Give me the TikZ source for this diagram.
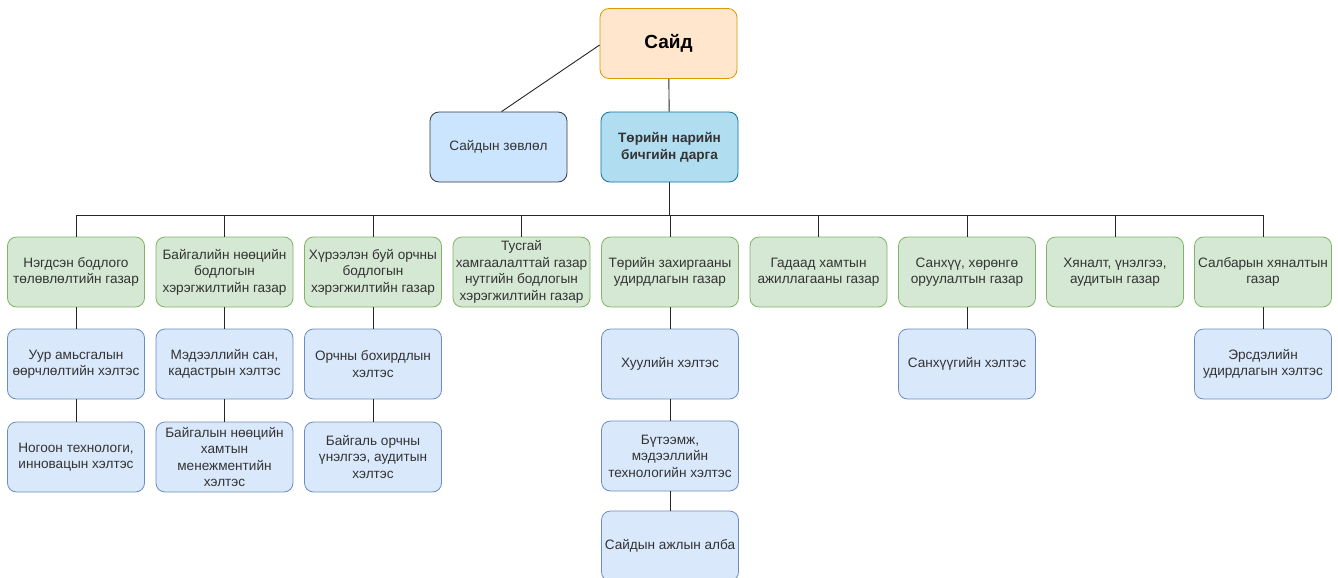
\documentclass[tikz,border=0pt]{standalone}
\usepackage{fontspec}
\setmainfont{Liberation Sans}
\begin{document}
\begin{tikzpicture}[x=1pt,y=-1pt,
  box/.style={draw,rounded corners=9pt,minimum width=137pt,minimum height=70pt,align=center,font=\fontsize{13.6}{16.5}\selectfont,text=black!80,line width=0.8pt,inner sep=1pt},
  topbox/.style={box,fill={rgb,255:red,255;green,230;blue,204},draw={rgb,255:red,215;green,155;blue,0},font=\fontsize{19}{21}\selectfont\bfseries,text=black},
  council/.style={box,fill={rgb,255:red,204;green,229;blue,255},draw={rgb,255:red,54;green,57;blue,61}},
  chief/.style={box,fill={rgb,255:red,177;green,221;blue,240},draw={rgb,255:red,16;green,115;blue,158},font=\fontsize{13.6}{17}\selectfont\bfseries},
  dept/.style={box,fill={rgb,255:red,213;green,232;blue,212},draw={rgb,255:red,130;green,179;blue,102}},
  unit/.style={box,fill={rgb,255:red,218;green,232;blue,252},draw={rgb,255:red,108;green,142;blue,191}},
  link/.style={draw=black!85,line width=0.9pt}]
\useasboundingbox (0,0) rectangle (1338,578);
\fill[white] (0,0) rectangle (1338,578);
% top
\node[topbox] (said) at (668.5,43.5) {Сайд};
\node[council] (council) at (498.5,147) {Сайдын зөвлөл};
\node[chief] (chief) at (669.5,147) {Төрийн нарийн\\бичгийн дарга};
% departments
\node[dept] (d1) at (76,272) {Нэгдсэн бодлого\\төлөвлөлтийн газар};
\node[dept] (d2) at (224.5,272) {Байгалийн нөөцийн\\бодлогын\\хэрэгжилтийн газар};
\node[dept] (d3) at (373,272) {Хүрээлэн буй орчны\\бодлогын\\хэрэгжилтийн газар};
\node[dept] (d4) at (521.5,272) {Тусгай\\хамгаалалттай газар\\нутгийн бодлогын\\хэрэгжилтийн газар};
\node[dept] (d5) at (670,272) {Төрийн захиргааны\\удирдлагын газар};
\node[dept] (d6) at (818.5,272) {Гадаад хамтын\\ажиллагааны газар};
\node[dept] (d7) at (967,272) {Санхүү, хөрөнгө\\оруулалтын газар};
\node[dept] (d8) at (1115,272) {Хяналт, үнэлгээ,\\аудитын газар};
\node[dept] (d9) at (1263,272) {Салбарын хяналтын\\газар};
% units
\node[unit] (u11) at (76,364) {Уур амьсгалын\\өөрчлөлтийн хэлтэс};
\node[unit] (u12) at (76,457) {Ногоон технологи,\\инновацын хэлтэс};
\node[unit] (u21) at (224.5,364) {Мэдээллийн сан,\\кадастрын хэлтэс};
\node[unit] (u22) at (224.5,457) {Байгалын нөөцийн\\хамтын\\менежментийн\\хэлтэс};
\node[unit] (u31) at (373,364) {Орчны бохирдлын\\хэлтэс};
\node[unit] (u32) at (373,457) {Байгаль орчны\\үнэлгээ, аудитын\\хэлтэс};
\node[unit] (u51) at (670,364) {Хуулийн хэлтэс};
\node[unit] (u52) at (670,456) {Бүтээмж,\\мэдээллийн\\технологийн хэлтэс};
\node[unit] (u53) at (670,546) {Сайдын ажлын алба};
\node[unit] (u71) at (967,364) {Санхүүгийн хэлтэс};
\node[unit] (u91) at (1263,364) {Эрсдэлийн\\удирдлагын хэлтэс};
% connectors
\coordinate (bus) at (669.5,215);
\draw[link] ([yshift=-1.5pt]said.west) -- ([xshift=3pt]council.north);
\draw[link] (said) -- (chief);
\draw[link] (chief.south) -- (bus);
\draw[link] (d1.north |- bus) -- (d9.north |- bus);
\foreach \d in {d1,d2,d3,d4,d5,d6,d7,d8,d9}{
  \draw[link] (\d.north |- bus) -- (\d.north);
}
\draw[link] (d1) -- (u11); \draw[link] (u11) -- (u12);
\draw[link] (d2) -- (u21); \draw[link] (u21) -- (u22);
\draw[link] (d3) -- (u31); \draw[link] (u31) -- (u32);
\draw[link] (d5) -- (u51); \draw[link] (u51) -- (u52); \draw[link] (u52) -- (u53);
\draw[link] (d7) -- (u71);
\draw[link] (d9) -- (u91);
\end{tikzpicture}
\end{document}
